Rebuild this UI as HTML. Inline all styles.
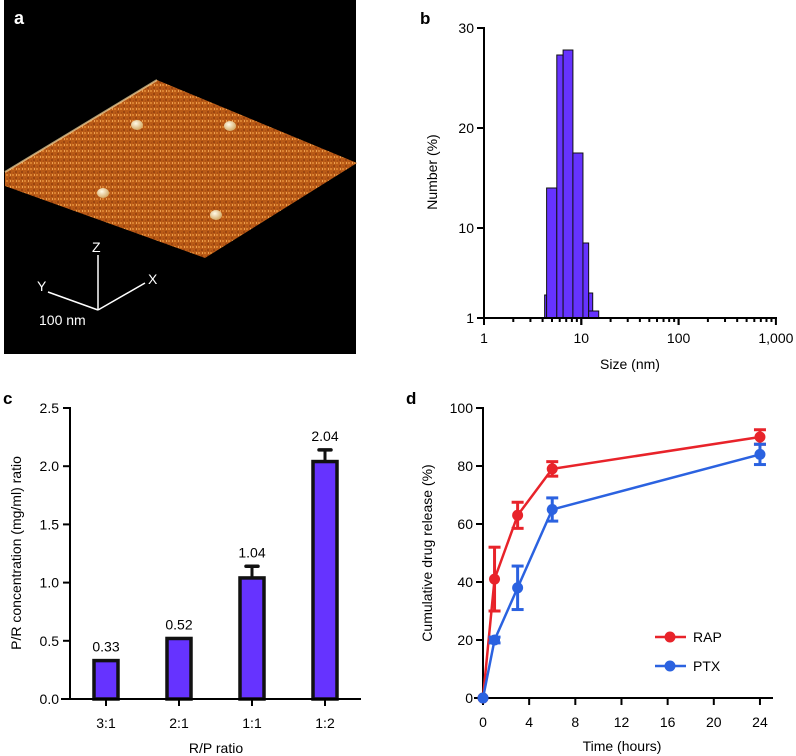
<!DOCTYPE html>
<html><head><meta charset="utf-8">
<style>
html,body{margin:0;padding:0;background:#fff;}
svg{display:block;font-family:"Liberation Sans",Arial,sans-serif;}
</style></head>
<body>
<svg id="fig" width="796" height="756" viewBox="0 0 796 756" xmlns="http://www.w3.org/2000/svg">
<defs>
<pattern id="noise" width="6" height="6" patternUnits="userSpaceOnUse">
<rect width="6" height="6" fill="#b95a16"/>
<rect x="0" y="0" width="2" height="2" fill="#d9802e"/>
<rect x="3" y="3" width="2" height="2" fill="#9a4510"/>
<rect x="4" y="0" width="1" height="2" fill="#eba050"/>
<rect x="1" y="4" width="1" height="2" fill="#a94f14"/>
</pattern>
<radialGradient id="dome" cx="40%" cy="35%" r="60%"><stop offset="0" stop-color="#fffbe8"/><stop offset="1" stop-color="#d8b070"/></radialGradient>
</defs>

<g>
<rect x="4" y="0" width="352" height="354" fill="#000"/>
<polygon points="5,172 157,80 357,163 205,258 5,186" fill="url(#noise)"/>
<polyline points="5,172 157,80" stroke="#f3d9a0" stroke-width="2" fill="none" opacity="0.7"/>
<ellipse cx="137" cy="125" rx="6" ry="5" fill="url(#dome)"/>
<ellipse cx="230" cy="126" rx="6" ry="5" fill="url(#dome)"/>
<ellipse cx="103" cy="193" rx="6" ry="5" fill="url(#dome)"/>
<ellipse cx="216" cy="215" rx="6" ry="5" fill="url(#dome)"/>
<text x="14" y="24" font-size="18" font-weight="bold" fill="#fff">a</text>
<g stroke="#fff" stroke-width="1.5">
<line x1="98" y1="310" x2="98" y2="255"/>
<line x1="98" y1="310" x2="48" y2="292"/>
<line x1="98" y1="310" x2="145" y2="283"/>
</g>
<text x="92" y="252" font-size="14" fill="#fff">Z</text>
<text x="37" y="291" font-size="14" fill="#fff">Y</text>
<text x="148" y="284" font-size="14" fill="#fff">X</text>
<text x="39" y="325" font-size="14" fill="#fff">100 nm</text>
</g>

<g id="pb"></g>
<g id="pc"></g>
<g id="pd"></g>
</svg>

<script>
const sizeBinLeft = [4.2, 4.4, 5.6, 6.5, 8.2, 10.4, 11.9, 11.9];
const sizeBinRight = [4.4, 5.6, 6.5, 8.2, 10.4, 11.9, 13.1, 15.1];
const numberPct = [3.3, 14, 27.3, 27.8, 17.5, 8.5, 3.5, 1.7];
const bYTicks = [1, 10, 20, 30];
const bXTicks = [1, 10, 100, 1000];
const bXTickLabels = ["1", "10", "100", "1,000"];

const ratioCats = ["3:1", "2:1", "1:1", "1:2"];
const ratioVals = [0.33, 0.52, 1.04, 2.04];
const ratioErr = [0, 0, 0.1, 0.1];
const ratioLabels = ["0.33", "0.52", "1.04", "2.04"];
const cYTicks = [0, 0.5, 1.0, 1.5, 2.0, 2.5];

const timeHrs = [0, 1, 3, 6, 24];
const rapVals = [0, 41, 63, 79, 90];
const rapErr = [0, 11, 4.5, 2.5, 2.5];
const ptxVals = [0, 20, 38, 65, 84];
const ptxErr = [0, 1, 7.5, 4, 3.5];
const dXTicks = [0, 4, 8, 12, 16, 20, 24];
const dYTicks = [0, 20, 40, 60, 80, 100];

const NS = "http://www.w3.org/2000/svg";
const FS = 14;
function mk(parent, tag, attrs, text) {
  const e = document.createElementNS(NS, tag);
  for (const k in attrs) e.setAttribute(k, attrs[k]);
  if (text !== undefined) e.textContent = text;
  parent.appendChild(e);
  return e;
}

(function () {
  const g = document.getElementById('pb');
  const x = v => 484 + Math.log10(v) * 97.3;
  const y = v => 318 - (v - 1) * 10;
  let t = mk(g, 'text', {x: 420, y: 24, 'font-size': 17, 'font-weight': 'bold'}, 'b');
  
  
  for (let i = 0; i < numberPct.length; i++) {
    const x0 = x(sizeBinLeft[i]), x1 = x(sizeBinRight[i]);
    const r = mk(g, 'rect', {x: x0, y: y(numberPct[i]), width: x1 - x0, height: 318 - y(numberPct[i]), fill: '#6633ff', stroke: '#111', 'stroke-width': 1});
    
    
  }
  mk(g, 'line', {x1: 484, y1: 27, x2: 484, y2: 319, stroke: '#000', 'stroke-width': 2});
  mk(g, 'line', {x1: 483, y1: 318, x2: 777, y2: 318, stroke: '#000', 'stroke-width': 2});
  bYTicks.forEach(v => {
    mk(g, 'line', {x1: 477, y1: y(v), x2: 484, y2: y(v), stroke: '#000', 'stroke-width': 2});
    const tt = mk(g, 'text', {x: 474, y: y(v) + 5, 'font-size': FS, 'text-anchor': 'end'}, String(v));
    
    
  });
  for (let d = 0; d < 3; d++) for (let m = 1; m <= 10; m++) {
    const v = Math.pow(10, d) * m;
    const major = m === 1 || m === 10;
    mk(g, 'line', {x1: x(v), y1: 318, x2: x(v), y2: 318 + (major ? 7 : 4), stroke: '#000', 'stroke-width': 2});
  }
  bXTicks.forEach((v, i) => {
    const tt = mk(g, 'text', {x: x(v), y: 343, 'font-size': FS, 'text-anchor': 'middle'}, bXTickLabels[i]);
    
    
  });
  t = mk(g, 'text', {x: 630, y: 369, 'font-size': FS, 'text-anchor': 'middle'}, 'Size (nm)');
  
  
  t = mk(g, 'text', {x: 437, y: 172, 'font-size': FS, 'text-anchor': 'middle', transform: 'rotate(-90 437 172)'}, 'Number (%)');
  
  
})();

(function () {
  const g = document.getElementById('pc');
  const y = v => 699 - v * 116.4;
  const xc = i => 106 + i * 73;
  let t = mk(g, 'text', {x: 3, y: 404, 'font-size': 17, 'font-weight': 'bold'}, 'c');
  
  
  ratioVals.forEach((v, i) => {
    if (ratioErr[i] > 0) {
      mk(g, 'line', {x1: xc(i), y1: y(v), x2: xc(i), y2: y(v + ratioErr[i]), stroke: '#111', 'stroke-width': 3});
      mk(g, 'line', {x1: xc(i) - 6, y1: y(v + ratioErr[i]), x2: xc(i) + 6, y2: y(v + ratioErr[i]), stroke: '#111', 'stroke-width': 3.5, 'stroke-linecap': 'round'});
    }
    const r = mk(g, 'rect', {x: xc(i) - 12, y: y(v), width: 24, height: 699 - y(v), fill: '#6633ff', stroke: '#111', 'stroke-width': 3.5});
    
    
    const lt = mk(g, 'text', {x: xc(i), y: y(v + ratioErr[i]) - 9, 'font-size': FS, 'text-anchor': 'middle'}, ratioLabels[i]);
    
    
    mk(g, 'line', {x1: xc(i), y1: 699, x2: xc(i), y2: 706, stroke: '#000', 'stroke-width': 2});
    const xt = mk(g, 'text', {x: xc(i), y: 728, 'font-size': FS, 'text-anchor': 'middle'}, ratioCats[i]);
    
    
  });
  mk(g, 'line', {x1: 70, y1: 407, x2: 70, y2: 700, stroke: '#000', 'stroke-width': 2});
  mk(g, 'line', {x1: 61, y1: 699, x2: 361, y2: 699, stroke: '#000', 'stroke-width': 2});
  cYTicks.forEach(v => {
    mk(g, 'line', {x1: 63, y1: y(v), x2: 70, y2: y(v), stroke: '#000', 'stroke-width': 2});
    const tt = mk(g, 'text', {x: 59, y: y(v) + 5, 'font-size': FS, 'text-anchor': 'end'}, v.toFixed(1));
    
    
  });
  t = mk(g, 'text', {x: 216, y: 753, 'font-size': FS, 'text-anchor': 'middle'}, 'R/P ratio');
  
  
  t = mk(g, 'text', {x: 21, y: 553, 'font-size': FS, 'text-anchor': 'middle', transform: 'rotate(-90 21 553)'}, 'P/R concentration (mg/ml) ratio');
  
  
})();

(function () {
  const g = document.getElementById('pd');
  const x = v => 483 + v * 11.54;
  const y = v => 698 - v * 2.9;
  let t = mk(g, 'text', {x: 406, y: 404, 'font-size': 17, 'font-weight': 'bold'}, 'd');
  
  
  mk(g, 'line', {x1: 483, y1: 407, x2: 483, y2: 699, stroke: '#000', 'stroke-width': 2});
  mk(g, 'line', {x1: 474, y1: 698, x2: 773, y2: 698, stroke: '#000', 'stroke-width': 2});
  dYTicks.forEach(v => {
    mk(g, 'line', {x1: 476, y1: y(v), x2: 483, y2: y(v), stroke: '#000', 'stroke-width': 2});
    const tt = mk(g, 'text', {x: 473, y: y(v) + 5, 'font-size': FS, 'text-anchor': 'end'}, String(v));
    
    
  });
  dXTicks.forEach(v => {
    mk(g, 'line', {x1: x(v), y1: 698, x2: x(v), y2: 705, stroke: '#000', 'stroke-width': 2});
    const tt = mk(g, 'text', {x: x(v), y: 727, 'font-size': FS, 'text-anchor': 'middle'}, String(v));
    
    
  });
  function series(vals, errs, color, name) {
    const sg = mk(g, 'g', {});
    
    
    const pl = mk(sg, 'polyline', {points: timeHrs.map((tt, i) => x(tt) + ',' + y(vals[i])).join(' '), fill: 'none', stroke: color, 'stroke-width': 2.5});
    
    
    timeHrs.forEach((tt, i) => {
      if (errs[i] > 0) {
        const cx = x(tt);
        mk(sg, 'line', {x1: cx, y1: y(vals[i] - errs[i]), x2: cx, y2: y(vals[i] + errs[i]), stroke: color, 'stroke-width': 3});
        mk(sg, 'line', {x1: cx - 6, y1: y(vals[i] - errs[i]), x2: cx + 6, y2: y(vals[i] - errs[i]), stroke: color, 'stroke-width': 3});
        mk(sg, 'line', {x1: cx - 6, y1: y(vals[i] + errs[i]), x2: cx + 6, y2: y(vals[i] + errs[i]), stroke: color, 'stroke-width': 3});
      }
      const c = mk(sg, 'circle', {cx: x(tt), cy: y(vals[i]), r: 5.5, fill: color});
      
      
    });
  }
  series(rapVals, rapErr, '#e8232a', 'rap');
  series(ptxVals, ptxErr, '#2b62e0', 'ptx');
  const lg = mk(g, 'g', {});
  
  
  [['RAP', '#e8232a', 637], ['PTX', '#2b62e0', 666]].forEach(([lab, col, ly]) => {
    const e = mk(lg, 'g', {});
    
    
    mk(e, 'line', {x1: 655, y1: ly, x2: 686, y2: ly, stroke: col, 'stroke-width': 2.5});
    mk(e, 'circle', {cx: 670, cy: ly, r: 5.5, fill: col});
    mk(e, 'text', {x: 693, y: ly + 5, 'font-size': FS}, lab);
  });
  t = mk(g, 'text', {x: 622, y: 751, 'font-size': FS, 'text-anchor': 'middle'}, 'Time (hours)');
  
  
  t = mk(g, 'text', {x: 432, y: 553, 'font-size': FS, 'text-anchor': 'middle', transform: 'rotate(-90 432 553)'}, 'Cumulative drug release (%)');
  
  
})();
</script>
</body></html>
